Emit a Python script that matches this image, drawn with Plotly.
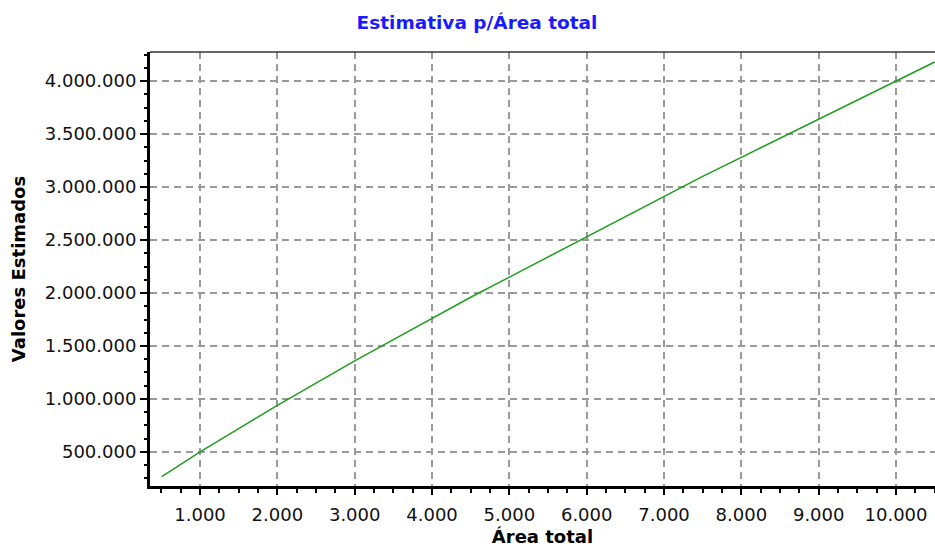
import plotly.graph_objects as go

# Data
area_total = [505, 1000, 1500, 2000, 2500, 3000, 3500, 4000, 4500, 5000,
              5500, 6000, 6500, 7000, 7500, 8000, 8500, 9000, 9500, 10000, 10500]
valores_estimados = [267000, 500000, 720000, 940000, 1150000, 1360000, 1560000,
                     1760000, 1960000, 2150000, 2340000, 2530000, 2720000, 2910000,
                     3100000, 3280000, 3460000, 3640000, 3820000, 4000000, 4180000]

title_text = "Estimativa p/Área total"
x_title = "Área total"
y_title = "Valores Estimados"

FONT = "DejaVu Sans"

W, H = 935, 552

fig = go.Figure()
fig.add_trace(go.Scatter(
    x=area_total, y=valores_estimados, mode="lines",
    line=dict(color="#1E9E1E", width=1.5), showlegend=False, cliponaxis=True,
))

grid_style = dict(showgrid=True, gridcolor="#9a9a9a", gridwidth=1.5, griddash="7px,5px")

fig.update_layout(
    width=W, height=H,
    margin=dict(l=150, r=0, t=52, b=66, autoexpand=False),
    paper_bgcolor="white", plot_bgcolor="white",
    separators=",.",
    font=dict(family=FONT, size=18, color="#111111"),
    title=dict(text=f"<b>{title_text}</b>", x=477/W, xref="container", xanchor="center",
               y=1-23/H, yref="container", yanchor="middle",
               font=dict(family=FONT, size=18.5, color="#1a1aff")),
    xaxis=dict(
        range=[353, 10504], tickmode="linear", tick0=0, dtick=1000, tickformat=",d",
        ticks="outside", ticklen=6, tickwidth=1.5, tickcolor="black", automargin=False,
        ticklabelstandoff=4,
        showline=True, linecolor="black", linewidth=3, mirror=False,
        minor=dict(dtick=250, tick0=0, ticks="outside", ticklen=4, tickcolor="black", showgrid=False),
        title=dict(text=f"<b>{x_title}</b>", font=dict(family=FONT, size=18, color="black"), standoff=7),
        zeroline=False, **grid_style,
    ),
    yaxis=dict(
        range=[179000, 4274000], tickmode="linear", tick0=0, dtick=500000, tickformat=",d",
        ticks="outside", ticklen=7, tickwidth=1.5, tickcolor="black", automargin=False,
        showline=True, linecolor="black", linewidth=3, mirror=False,
        minor=dict(dtick=125000, tick0=0, ticks="outside", ticklen=3, tickcolor="black", showgrid=False),
        title=dict(text=f"<b>{y_title}</b>", font=dict(family=FONT, size=18, color="black"), standoff=15),
        zeroline=False, **grid_style,
    ),
    shapes=[dict(type="line", xref="paper", yref="paper", x0=0, x1=1, y0=1, y1=1,
                 line=dict(color="#333333", width=1.5))],
)

fig.write_html(
    "out.html",
    config={"displayModeBar": False},
    post_script="document.body.style.margin='0';document.body.style.overflow='hidden';",
)
